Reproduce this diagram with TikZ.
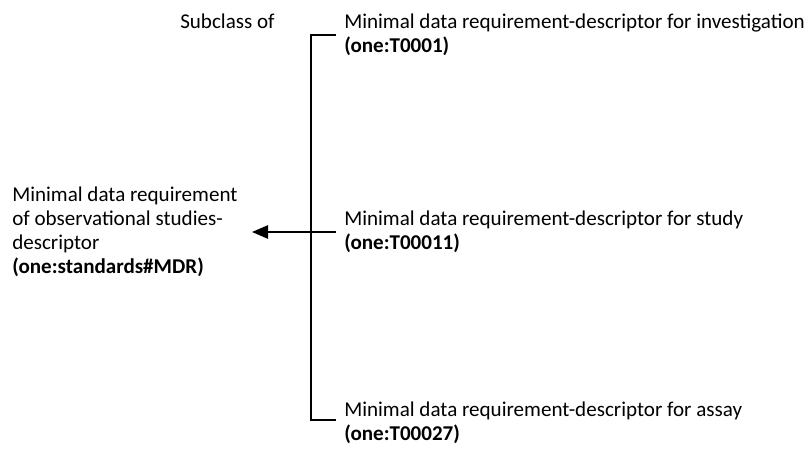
\documentclass[tikz,border=0pt]{standalone}
\usepackage{fontspec}
\setmainfont{Carlito}
\usepackage{tikz}
\usetikzlibrary{positioning,arrows.meta,calc}

\begin{document}
\begin{tikzpicture}[x=0.75pt, y=-0.75pt,
  font=\fontsize{15.8}{18}\selectfont,
  lab/.style={align=left, inner sep=0pt, anchor=north west},
  link/.style={line width=1.1pt}]
\useasboundingbox (0,0) rectangle (808,450);
\node[lab] (sub) at (180,14) {Subclass of};
\node[lab] (inv) at (344,14) {Minimal data requirement-descriptor for investigation\\\textbf{(one:T0001)}};
\node[lab] (study) at (344,211) {Minimal data requirement-descriptor for study\\\textbf{(one:T00011)}};
\node[lab] (assay) at (344,402) {Minimal data requirement-descriptor for assay\\\textbf{(one:T00027)}};
\node[lab] (mdr) at (12,187) {Minimal data requirement\\of observational studies-\\descriptor\\\textbf{(one:standards\#MDR)}};
\coordinate (top) at (336,35);
\coordinate (bot) at (336,420);
\coordinate (mid) at (336,232);
\coordinate (tip) at (252,232);
\draw[link] (top) -- ++(-25,0) |- (bot);
\draw[link, -{Triangle[length=12pt, width=10pt]}] (mid) -- (tip);
\end{tikzpicture}
\end{document}
